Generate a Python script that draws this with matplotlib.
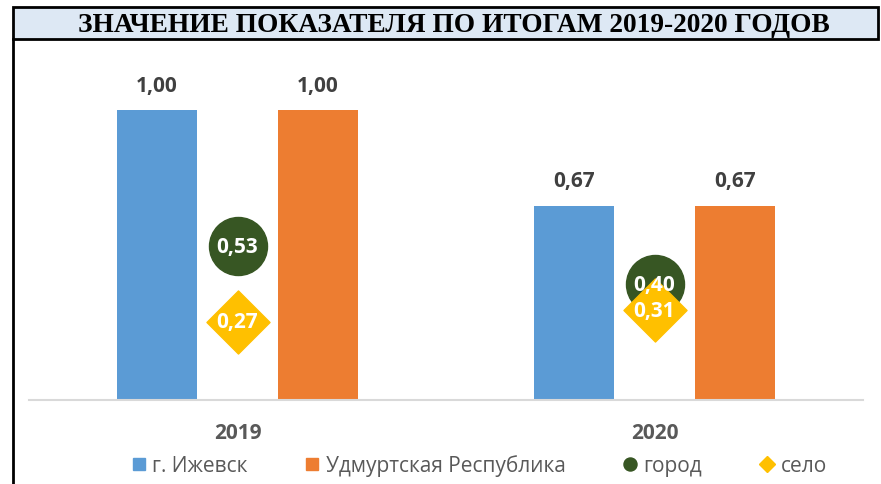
import matplotlib
matplotlib.use("Agg")
import matplotlib.pyplot as plt
from matplotlib.lines import Line2D
from matplotlib.patches import Rectangle

TITLE = "ЗНАЧЕНИЕ ПОКАЗАТЕЛЯ ПО ИТОГАМ 2019-2020 ГОДОВ"
YEARS = ["2019", "2020"]
IZHEVSK = [1.00, 0.67]
UDMURTIA = [1.00, 0.67]
GOROD = [0.53, 0.40]
SELO = [0.27, 0.31]
SERIES_NAMES = ["г. Ижевск", "Удмуртская Республика", "город", "село"]

BLUE = "#5b9bd5"
ORANGE = "#ed7d31"
GREEN = "#375623"
GOLD = "#ffc000"
LABEL_GRAY = "#404040"
TICK_GRAY = "#595959"

W, H = 881, 485
SANS = ["Open Sans", "DejaVu Sans"]


def fx(px):
    return px / W


def fy(py):
    return 1 - py / H


fig = plt.figure(figsize=(W / 100, H / 100), dpi=100)
fig.patch.set_facecolor("white")

# frame: title box plus left border
fig.add_artist(Rectangle((fx(13), fy(40)), fx(878) - fx(13), fy(8) - fy(40),
                         transform=fig.transFigure, facecolor="#dde8f4",
                         edgecolor="black", linewidth=2.0, zorder=1))
fig.add_artist(Line2D([fx(13), fx(13)], [fy(40), 0], transform=fig.transFigure,
                      color="black", linewidth=2.0))
fig.text(fx(454), fy(25), TITLE, ha="center", va="center", fontsize=19.7,
         fontweight="bold", family="Liberation Serif", color="black")

ax = fig.add_axes([fx(29), fy(401), fx(863) - fx(29), fy(60) - fy(401)])
x = [0, 1]
width = 0.194
off = 0.193
b1 = ax.bar([i - off for i in x], IZHEVSK, width, color=BLUE, label=SERIES_NAMES[0], zorder=2)
b2 = ax.bar([i + off for i in x], UDMURTIA, width, color=ORANGE, label=SERIES_NAMES[1], zorder=2)
ax.scatter(x, GOROD, s=1745, marker="o", color=GREEN, label=SERIES_NAMES[2], zorder=3)
ax.scatter(x, SELO, s=1030, marker="D", color=GOLD, label=SERIES_NAMES[3], zorder=4)

for bars, vals in ((b1, IZHEVSK), (b2, UDMURTIA)):
    for rect, v in zip(bars, vals):
        ax.annotate(f"{v:.2f}".replace(".", ","),
                    (rect.get_x() + rect.get_width() / 2, v),
                    xytext=(0, 18), textcoords="offset points",
                    ha="center", va="center", fontsize=15, fontweight="bold",
                    color=LABEL_GRAY, family=SANS)
for vals in (GOROD, SELO):
    for i, v in zip(x, vals):
        ax.text(i, v, f"{v:.2f}".replace(".", ","), ha="center", va="center",
                fontsize=15, fontweight="bold", color="white", family=SANS, zorder=5)

ax.set_xlim(-0.5, 1.5)
ax.set_ylim(0, 1.176)
ax.set_xticks(x)
ax.set_xticklabels(YEARS, fontsize=15, fontweight="bold", color=TICK_GRAY, family=SANS)
ax.tick_params(axis="x", length=0, pad=16)
ax.set_yticks([])
for side in ("top", "left", "right"):
    ax.spines[side].set_visible(False)
ax.spines["bottom"].set_color("#d9d9d9")
ax.spines["bottom"].set_linewidth(1.5)
ax.patch.set_alpha(0)

handles = [
    Line2D([], [], marker="s", linestyle="none", color=BLUE, markersize=8.6),
    Line2D([], [], marker="s", linestyle="none", color=ORANGE, markersize=8.6),
    Line2D([], [], marker="o", linestyle="none", color=GREEN, markersize=9.4),
    Line2D([], [], marker="D", linestyle="none", color=GOLD, markersize=8),
]
fig.legend(handles, SERIES_NAMES, loc="center", bbox_to_anchor=(fx(479), fy(466)),
           ncol=4, frameon=False, handletextpad=0.3, columnspacing=2.75,
           handlelength=0.7, prop={"family": SANS, "size": 15},
           labelcolor=TICK_GRAY)

fig.savefig("out.png", dpi=100)
